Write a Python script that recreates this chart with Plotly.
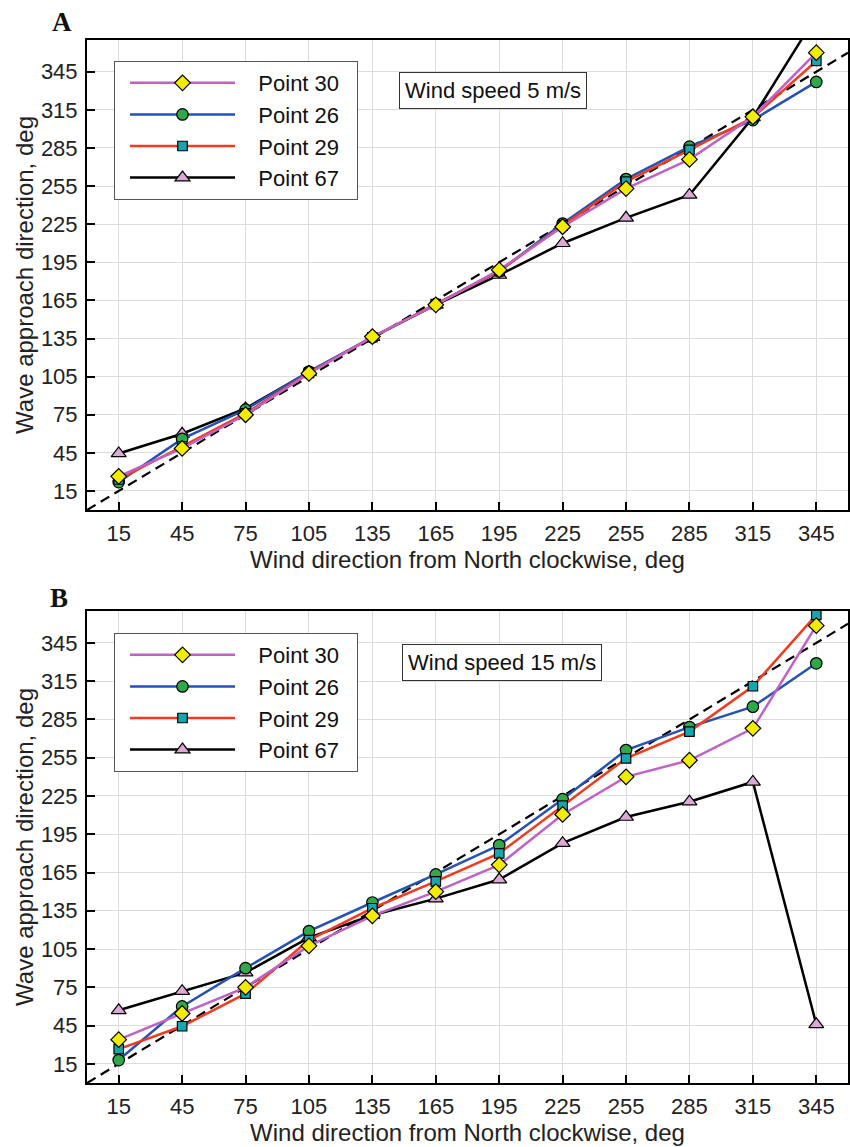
import plotly.graph_objects as go

# ---------------- data ----------------
wind_dir = [15, 45, 75, 105, 135, 165, 195, 225, 255, 285, 315, 345]
tick_vals = [15, 45, 75, 105, 135, 165, 195, 225, 255, 285, 315, 345]
ref_line = [0, 360]

series_names = ["Point 30", "Point 26", "Point 29", "Point 67"]

# Panel A: wind speed 5 m/s
a_p30 = [26.5, 48.5, 75, 107.5, 136.5, 161.5, 189, 223, 253, 276, 309.5, 360]
a_p26 = [22, 56, 79, 109, 136, 162, 188, 225.5, 260.5, 286, 307, 337]
a_p29 = [24, 50, 76, 108, 136, 162, 188, 224, 258.5, 283.5, 309, 353.5]
a_p67 = [44.5, 60, 80, 108.5, 136, 161.5, 185, 210, 230, 248, 309, 389]

# Panel B: wind speed 15 m/s
b_p30 = [34, 54.5, 75, 107.5, 131, 150, 171, 210.5, 240, 253, 278, 358.5]
b_p26 = [18, 60, 90, 119, 141.5, 163.5, 186.5, 222.5, 261, 279, 295, 329]
b_p29 = [26.5, 44.5, 70, 112, 137, 158, 180, 217.5, 254.5, 275.5, 311, 367]
b_p67 = [57, 72, 86.5, 114, 131.5, 144.5, 159.5, 188, 208.5, 220.5, 236, 46]

# ---------------- styles ----------------
FONT = "Liberation Sans, Arial, sans-serif"
NB = "\u00a0"
styles = {
    "Point 30": dict(line="#c062c4", fill="#f2ec00", symbol="diamond", size=12, rank=1),
    "Point 26": dict(line="#2452b5", fill="#2fa84a", symbol="circle", size=11.5, rank=2),
    "Point 29": dict(line="#f33a1f", fill="#16a6b0", symbol="square", size=9.5, rank=3),
    "Point 67": dict(line="#000000", fill="#dca8d6", symbol="triangle-up", size=13, rank=4),
}
draw_order = ["Point 67", "Point 26", "Point 29", "Point 30"]

fig = go.Figure()

panels = [
    ("x", "y", "legend", {"Point 30": a_p30, "Point 26": a_p26, "Point 29": a_p29, "Point 67": a_p67}),
    ("x2", "y2", "legend2", {"Point 30": b_p30, "Point 26": b_p26, "Point 29": b_p29, "Point 67": b_p67}),
]

for xa, ya, lg, data in panels:
    fig.add_trace(go.Scatter(
        x=ref_line, y=ref_line, mode="lines", xaxis=xa, yaxis=ya,
        line=dict(color="black", width=2.2, dash="10px,6px"), showlegend=False, hoverinfo="skip"))
    for name in draw_order:
        st = styles[name]
        fig.add_trace(go.Scatter(
            x=wind_dir, y=data[name], name=NB * 3 + name + NB * 2, mode="lines+markers",
            xaxis=xa, yaxis=ya, legend=lg, legendrank=st["rank"],
            line=dict(color=st["line"], width=2.5),
            marker=dict(symbol=st["symbol"], size=st["size"], color=st["fill"],
                        line=dict(color="black", width=1.2)),
            cliponaxis=True))

axis_common = dict(
    tickmode="array", tickvals=tick_vals, ticks="inside", ticklen=8,
    tickwidth=1.5, tickcolor="black", showline=True, linecolor="black", linewidth=2,
    mirror=True, showgrid=True, gridcolor="#dcdcdc", gridwidth=1, zeroline=False,
    automargin=False,
    tickfont=dict(family=FONT, size=22, color="#222"),
)

def xaxis(anchor):
    d = dict(axis_common)
    d.update(range=[0, 360], anchor=anchor, ticklabelstandoff=3,
             title=dict(text="Wind direction from North clockwise, deg",
                        font=dict(family=FONT, size=24, color="#222"), standoff=4))
    return d

def yaxis(anchor, domain):
    d = dict(axis_common)
    d.update(range=[0, 370], anchor=anchor, domain=domain, ticklabelstandoff=3,
             title=dict(text="Wave approach direction, deg",
                        font=dict(family=FONT, size=24, color="#222"), standoff=0))
    return d

H = 1147
top, bottom = 40, 64
plot_h = H - top - bottom  # 1043
a_dom = [(1083 - 510) / plot_h, 1.0]
b_dom = [0.0, (1083 - 611) / plot_h]

legend_common = dict(
    xanchor="left", yanchor="top", bgcolor="white", bordercolor="#555", borderwidth=1,
    font=dict(family=FONT, size=22, color="#111"), itemwidth=105, tracegroupgap=0,
    traceorder="normal", indentation=10,
)

def px_to_paper_x(px):
    return (px - 87) / 761

def px_to_paper_y(py):
    return (1083 - py) / plot_h

fig.update_layout(
    width=850, height=H,
    margin=dict(l=87, r=2, t=top, b=bottom, autoexpand=False),
    paper_bgcolor="white", plot_bgcolor="white",
    xaxis=xaxis("y"), yaxis=yaxis("x", a_dom),
    xaxis2=xaxis("y2"), yaxis2=yaxis("x2", b_dom),
    legend=dict(legend_common, x=px_to_paper_x(114), y=px_to_paper_y(61)),
    legend2=dict(legend_common, x=px_to_paper_x(114), y=px_to_paper_y(633)),
    annotations=[
        dict(text="Wind speed 5 m/s", xref="paper", yref="paper",
             x=px_to_paper_x(399), y=px_to_paper_y(91), xanchor="left", yanchor="middle",
             showarrow=False, font=dict(family=FONT, size=22, color="#111"),
             bgcolor="white", bordercolor="#333", borderwidth=1, borderpad=5),
        dict(text="Wind speed 15 m/s", xref="paper", yref="paper",
             x=px_to_paper_x(402), y=px_to_paper_y(662), xanchor="left", yanchor="middle",
             showarrow=False, font=dict(family=FONT, size=22, color="#111"),
             bgcolor="white", bordercolor="#333", borderwidth=1, borderpad=5),
        dict(text="<b>A</b>", xref="paper", yref="paper",
             x=px_to_paper_x(62), y=px_to_paper_y(22), xanchor="center", yanchor="middle",
             showarrow=False, font=dict(family="Liberation Serif, Times New Roman, serif", size=27, color="#111")),
        dict(text="<b>B</b>", xref="paper", yref="paper",
             x=px_to_paper_x(59), y=px_to_paper_y(598), xanchor="center", yanchor="middle",
             showarrow=False, font=dict(family="Liberation Serif, Times New Roman, serif", size=27, color="#111")),
    ],
)

fig.write_html("out.html", config={"displayModeBar": False},
               post_script="document.body.style.margin='0px';")
